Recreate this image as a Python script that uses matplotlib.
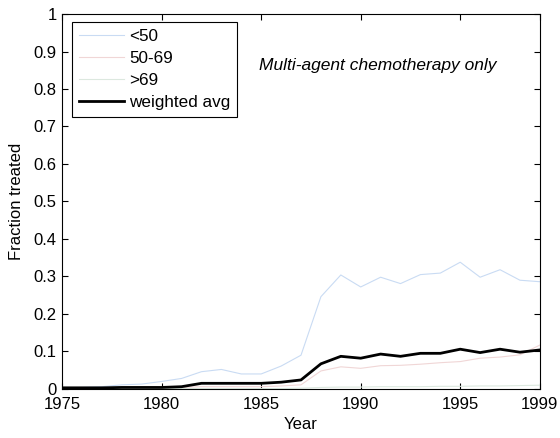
import numpy as np
import matplotlib.pyplot as plt

plt.rcParams['font.family'] = ['Liberation Sans', 'DejaVu Sans']
plt.rcParams['font.size'] = 12

"Data"
years = np.arange(1975, 2000)
under50 = [0.003, 0.004, 0.006, 0.011, 0.013, 0.020, 0.028, 0.046, 0.052, 0.040,
           0.040, 0.061, 0.090, 0.246, 0.304, 0.272, 0.298, 0.281, 0.305, 0.309,
           0.338, 0.298, 0.318, 0.290, 0.286]
age50_69 = [0.002, 0.002, 0.002, 0.003, 0.003, 0.003, 0.004, 0.006, 0.006, 0.006,
            0.006, 0.008, 0.011, 0.048, 0.059, 0.055, 0.062, 0.063, 0.066, 0.070,
            0.073, 0.082, 0.085, 0.091, 0.117]
over69 = [0.000, 0.000, 0.000, 0.000, 0.000, 0.001, 0.001, 0.001, 0.001, 0.001,
          0.001, 0.001, 0.002, 0.004, 0.005, 0.005, 0.006, 0.006, 0.006, 0.007,
          0.007, 0.008, 0.008, 0.009, 0.010]
weighted = [0.003, 0.003, 0.003, 0.004, 0.004, 0.004, 0.006, 0.015, 0.015, 0.015,
            0.015, 0.018, 0.024, 0.067, 0.087, 0.082, 0.093, 0.087, 0.095, 0.095,
            0.106, 0.097, 0.106, 0.098, 0.104]

fig = plt.figure(figsize=(5.6, 4.38), dpi=100)
ax = fig.add_axes([0.111, 0.112, 0.853, 0.856])

ax.plot(years, under50, color='#c9dbf3', linewidth=0.8, label='<50')
ax.plot(years, age50_69, color='#f0d6d6', linewidth=0.8, label='50-69')
ax.plot(years, over69, color='#dce8df', linewidth=0.8, label='>69')
ax.plot(years, weighted, color='black', linewidth=2, label='weighted avg')

ax.set_xlim(1975, 1999)
ax.set_ylim(0, 1)
ax.set_xticks([1975, 1980, 1985, 1990, 1995, 1999])
ax.set_yticks(np.arange(0, 1.01, 0.1))
ax.set_yticklabels(['0', '0.1', '0.2', '0.3', '0.4', '0.5', '0.6', '0.7', '0.8', '0.9', '1'])
ax.tick_params(direction='in', top=True, right=True, length=4, width=0.8)
ax.tick_params(axis='x', pad=5.5)
ax.tick_params(axis='y', pad=4)
for s in ax.spines.values():
    s.set_linewidth(0.8)

ax.set_xlabel('Year', labelpad=4)
ax.set_ylabel('Fraction treated', labelpad=7)

leg = ax.legend(loc='upper left', bbox_to_anchor=(0.021, 0.979), borderaxespad=0,
                fancybox=False, edgecolor='black', framealpha=1, borderpad=0.42,
                labelspacing=0.4, handlelength=2.6, handletextpad=0.3, fontsize=12.3)
leg.get_frame().set_linewidth(0.8)

ax.text(0.413, 0.864, 'Multi-agent chemotherapy only', transform=ax.transAxes,
        style='italic', fontsize=12.5, va='center')

plt.savefig('out.png', dpi=100)
